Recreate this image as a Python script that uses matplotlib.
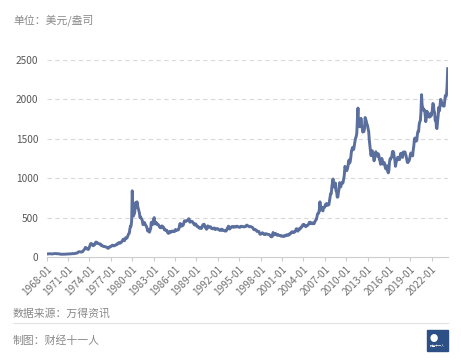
import matplotlib
matplotlib.use("Agg")
import matplotlib.pyplot as plt
from matplotlib.patches import Rectangle
import numpy as np

plt.rcParams['font.family'] = ['Noto Sans CJK SC', 'DejaVu Sans']

start_year = 1968
end_year = 2024
end_month = 4

p1968 = [38, 38, 39, 40, 41, 41.5, 40.5, 39.5, 39.3, 39.3, 39.3, 41.1]
p1969 = [42.4, 42.9, 43.5, 43.3, 43.5, 41.4, 41.7, 41.1, 40.9, 40.2, 37.5, 35.2]
p1970 = [34.9, 35.0, 35.1, 35.6, 35.9, 35.4, 35.3, 35.4, 36.2, 37.5, 37.4, 37.4]
p1971 = [37.9, 38.7, 38.9, 39.0, 40.5, 40.1, 40.9, 42.7, 42.0, 42.5, 42.9, 43.5]
p1972 = [45.8, 48.3, 48.3, 49.0, 54.6, 62.1, 65.7, 67.0, 65.5, 64.9, 62.9, 63.9]
p1973 = [65.1, 74.2, 84.4, 90.5, 102.0, 120.2, 120.2, 106.8, 103.0, 100.1, 94.8, 106.7]
p1974 = [129.2, 150.2, 168.4, 172.2, 163.1, 154.1, 143.0, 154.6, 151.8, 158.8, 181.7, 190.0]
p1975 = [176.3, 179.6, 178.2, 170.1, 167.4, 164.2, 165.2, 163.1, 144.1, 142.8, 142.8, 139.3]
p1976 = [131.6, 131.2, 132.7, 128.4, 126.9, 125.7, 117.5, 109.3, 114.3, 116.1, 130.6, 133.8]
p1977 = [132.3, 136.4, 148.3, 149.2, 146.7, 140.8, 143.4, 144.8, 149.4, 158.4, 162.9, 160.5]
p1978 = [173.2, 178.2, 183.7, 175.3, 176.3, 183.7, 188.7, 206.1, 212.8, 227.3, 206.1, 207.8]
p1979 = [227.3, 245.7, 242.1, 239.2, 257.7, 279.1, 294.7, 300.8, 355.1, 391.7, 392.5, 455.1]
p1980 = [840, 640, 520, 540, 560, 640, 690, 630, 700, 650, 620, 590]
p1981 = [560, 500, 510, 490, 480, 460, 410, 420, 440, 430, 410, 400]
p1982 = [385, 365, 330, 350, 335, 315, 340, 360, 440, 420, 410, 450]
p1983 = [480, 500, 420, 430, 440, 415, 420, 415, 410, 395, 380, 385]
p1984 = [370, 385, 395, 380, 380, 375, 345, 345, 340, 340, 340, 320]
p1985 = [305, 300, 305, 325, 315, 317, 317, 330, 323, 325, 325, 322]
p1986 = [345, 338, 345, 340, 342, 343, 348, 375, 420, 425, 395, 390]
p1987 = [408, 400, 408, 438, 460, 450, 450, 460, 460, 465, 465, 486]
p1988 = [478, 442, 444, 452, 451, 451, 437, 432, 413, 406, 420, 418]
p1989 = [404, 388, 390, 384, 371, 367, 375, 365, 362, 367, 394, 410]
p1990 = [410, 416, 393, 374, 369, 352, 362, 395, 389, 381, 381, 378]
p1991 = [383, 364, 363, 358, 357, 367, 368, 356, 348, 359, 360, 361]
p1992 = [354, 354, 345, 339, 337, 341, 353, 340, 345, 344, 335, 334]
p1993 = [329, 330, 330, 342, 367, 372, 392, 378, 355, 365, 373, 383]
p1994 = [387, 382, 384, 377, 381, 386, 385, 380, 391, 389, 384, 379]
p1995 = [379, 376, 382, 391, 385, 387, 386, 383, 383, 383, 386, 387]
p1996 = [400, 405, 396, 393, 392, 385, 383, 387, 383, 381, 378, 369]
p1997 = [355, 346, 352, 344, 344, 341, 324, 324, 323, 325, 306, 289]
p1998 = [289, 297, 296, 308, 299, 292, 293, 284, 289, 296, 294, 291]
p1999 = [287, 287, 286, 282, 276, 261, 256, 257, 264, 311, 293, 283]
p2000 = [284, 300, 286, 280, 275, 285, 282, 275, 273, 270, 266, 271]
p2001 = [266, 262, 263, 260, 272, 270, 268, 273, 283, 283, 276, 276]
p2002 = [282, 296, 294, 302, 314, 321, 314, 310, 319, 317, 319, 333]
p2003 = [357, 359, 341, 328, 355, 356, 351, 360, 379, 379, 389, 407]
p2004 = [414, 405, 406, 404, 384, 392, 398, 400, 406, 420, 439, 442]
p2005 = [424, 423, 434, 429, 422, 431, 424, 438, 456, 470, 476, 510]
p2006 = [549, 555, 557, 610, 700, 596, 633, 632, 598, 585, 627, 629]
p2007 = [631, 665, 655, 679, 667, 655, 665, 665, 712, 754, 806, 803]
p2008 = [889, 950, 990, 909, 888, 889, 939, 839, 829, 760, 760, 816]
p2009 = [858, 943, 924, 890, 928, 945, 934, 949, 996, 1043, 1150, 1135]
p2010 = [1118, 1095, 1113, 1148, 1205, 1232, 1193, 1215, 1271, 1343, 1370, 1391]
p2011 = [1360, 1374, 1424, 1473, 1510, 1529, 1572, 1756, 1890, 1665, 1739, 1652]
p2012 = [1656, 1760, 1674, 1650, 1585, 1596, 1594, 1630, 1770, 1747, 1722, 1684]
p2013 = [1671, 1627, 1593, 1487, 1414, 1343, 1286, 1347, 1349, 1316, 1275, 1221]
p2014 = [1244, 1300, 1336, 1299, 1287, 1279, 1311, 1296, 1239, 1222, 1176, 1201]
p2015 = [1251, 1227, 1179, 1199, 1199, 1181, 1131, 1117, 1125, 1157, 1086, 1068]
p2016 = [1097, 1200, 1246, 1242, 1261, 1276, 1337, 1341, 1326, 1266, 1238, 1151]
p2017 = [1192, 1234, 1231, 1266, 1246, 1260, 1236, 1283, 1315, 1280, 1283, 1264]
p2018 = [1331, 1331, 1325, 1334, 1303, 1282, 1238, 1202, 1198, 1215, 1220, 1250]
p2019 = [1291, 1320, 1300, 1285, 1284, 1359, 1413, 1500, 1510, 1495, 1470, 1480]
p2020 = [1560, 1597, 1592, 1683, 1715, 1732, 1846, 2060, 1921, 1901, 1866, 1858]
p2021 = [1867, 1808, 1718, 1760, 1850, 1834, 1807, 1785, 1775, 1777, 1821, 1790]
p2022 = [1817, 1856, 1948, 1937, 1849, 1837, 1733, 1765, 1640, 1630, 1726, 1798]
p2023 = [1898, 1855, 1912, 2000, 1992, 1943, 1950, 1918, 1916, 1915, 1985, 2050]
p2024 = [2034, 2060, 2180, 2390]

yearly = [p1968, p1969, p1970, p1971, p1972, p1973, p1974, p1975, p1976, p1977,
          p1978, p1979, p1980, p1981, p1982, p1983, p1984, p1985, p1986, p1987,
          p1988, p1989, p1990, p1991, p1992, p1993, p1994, p1995, p1996, p1997,
          p1998, p1999, p2000, p2001, p2002, p2003, p2004, p2005, p2006, p2007,
          p2008, p2009, p2010, p2011, p2012, p2013, p2014, p2015, p2016, p2017,
          p2018, p2019, p2020, p2021, p2022, p2023, p2024]
prices = [v for yr in yearly for v in yr]

labels = []
for y in range(start_year, end_year + 1):
    for m in range(1, 13):
        if y == end_year and m > end_month:
            break
        labels.append(f"{y}-{m:02d}")

tick_idx = [i for i, l in enumerate(labels) if l.endswith("-01") and (int(l[:4]) - start_year) % 3 == 0]
tick_labels = [labels[i] for i in tick_idx]

fig = plt.figure(figsize=(4.61, 3.64), dpi=100)
ax = fig.add_axes([46.7/461, 1-257/364, (447.7-46.7)/461, 197/364])

x = np.arange(len(prices))
ax.plot(x, prices, color='#5b6f9e', lw=2.1, solid_joinstyle='round')

ax.set_xlim(0, len(prices) - 1)
ax.set_ylim(0, 2500)
ax.set_yticks([0, 500, 1000, 1500, 2000, 2500])
for v in [500, 1000, 1500, 2000, 2500]:
    ax.axhline(v, color='#d9d9d9', lw=0.8, ls=(0, (4, 3)), zorder=0)

for s in ['top', 'right', 'left']:
    ax.spines[s].set_visible(False)
ax.spines['bottom'].set_color('#cccccc')
ax.spines['bottom'].set_linewidth(0.8)

ax.set_xticks(tick_idx)
ax.set_xticklabels(tick_labels, rotation=45, ha='right', rotation_mode='anchor',
                   fontsize=7.3, color='#707070')
ax.tick_params(axis='x', length=3, color='#cccccc', pad=2)
ax.tick_params(axis='y', length=0, labelsize=7.3, labelcolor='#555555', pad=6)

fig.text(13/461, 1-20/364, "单位：美元/盎司", fontsize=7.8, color='#888888', va='center', ha='left')
fig.text(13/461, 1-314/364, "数据来源：万得资讯", fontsize=7.8, color='#888888', va='center', ha='left')
fig.text(13/461, 1-341/364, "制图：财经十一人", fontsize=7.8, color='#888888', va='center', ha='left')
fig.add_artist(plt.Line2D([13/461, 448/461], [1-323/364, 1-323/364], color='#e3e3e3', lw=0.8))

fig.add_artist(Rectangle((427/461, 1-351/364), 21/461, 21/364, color='#2c4f86'))
fig.text(437.5/461, 1-346/364, "财经十一人", fontsize=2.2, color='white', ha='center', va='center')
fig.text(434/461, 1-338/364, "●", fontsize=6, color='white', ha='center', va='center')

fig.savefig("out.png", dpi=100, facecolor='white')
